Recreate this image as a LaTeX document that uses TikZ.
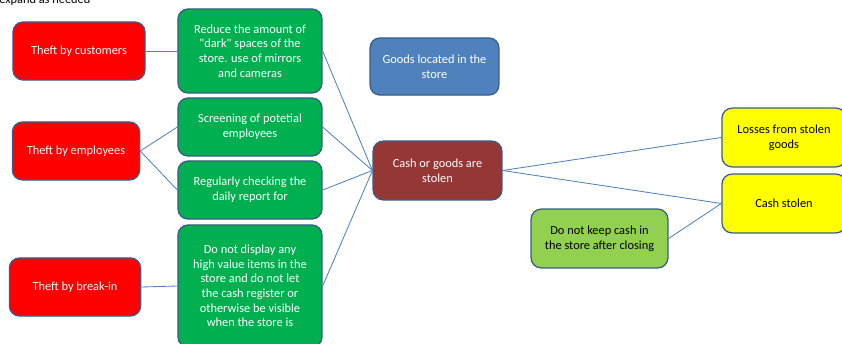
\documentclass[tikz,border=0pt]{standalone}
\usepackage{fontspec}
\setmainfont{Carlito}
\usetikzlibrary{positioning}

\definecolor{boxline}{HTML}{385D8A}
\definecolor{linkblue}{HTML}{4F81BD}
\definecolor{causered}{HTML}{FF0000}
\definecolor{actgreen}{HTML}{00B050}
\definecolor{goodsblue}{HTML}{4F81BD}
\definecolor{eventred}{HTML}{953735}
\definecolor{lossyellow}{HTML}{FFFF00}
\definecolor{keepgreen}{HTML}{92D050}

\begin{document}
\begin{tikzpicture}[
x=0.025cm, y=-0.025cm,
box/.style={draw=boxline, line width=0.9pt, rounded corners=0.25cm, align=center, inner sep=2pt,
  font=\fontsize{8.8}{10.4}\selectfont},
cause/.style={box, fill=causered, text=white, minimum height=1.45cm},
action/.style={box, fill=actgreen, text=white, minimum width=3.6cm},
result/.style={box, fill=lossyellow, text=black, minimum width=3.1cm, minimum height=1.47cm},
link/.style={draw=linkblue, line width=0.6pt}
]
\useasboundingbox (0,0) rectangle (842,343);

\node[anchor=base west, inner sep=0pt, font=\fontsize{8.8}{10.4}\selectfont] (hint) at (-1,3) {expand as needed};

% causes
\node[cause, minimum width=3.3cm] (cust) at (79,51) {Theft by customers};
\node[cause, minimum width=3.18cm] (empl) at (76,151) {Theft by employees};
\node[cause, minimum width=3.28cm] (brk) at (75,287) {Theft by break-in};

% counter measures
\node[action, minimum height=2.1cm] (dark) at (250,51) {Reduce the amount of\\\textquotedbl dark\textquotedbl{} spaces of the\\store. use of mirrors\\and cameras};
\node[action, minimum height=1.45cm] (screen) at (250,127) {Screening of potetial\\employees};
\node[action, minimum height=1.45cm] (check) at (250,190) {Regularly checking the\\daily report for};
\node[action, minimum height=3.05cm] (hide) at (250,286) {Do not display any\\high value items in the\\store and do not let\\the cash register or\\otherwise be visible\\when the store is};

% event
\node[box, fill=goodsblue, text=white, minimum width=3.22cm, minimum height=1.43cm] (goods) at (434.5,66.5) {Goods located in the\\store};
\node[box, fill=eventred, text=white, minimum width=3.22cm, minimum height=1.47cm] (stolen) at (437.5,170.5) {Cash or goods are\\stolen};

% consequences
\node[result] (loss) at (784,137.5) {Losses from stolen\\goods};
\node[result] (cash) at (784,203.5) {Cash stolen};
\node[box, fill=keepgreen, text=black, minimum width=3.42cm, minimum height=1.47cm] (keep) at (599.5,238.5) {Do not keep cash in\\the store after closing};

\draw[link] (cust.east) -- (dark.west);
\draw[link] (empl.east) -- (screen.west);
\draw[link] (empl.east) -- (check.west);
\draw[link] (brk.east) -- (hide.west);
\draw[link] (dark.east) -- (stolen.west);
\draw[link] (screen.east) -- (stolen.west);
\draw[link] (check.east) -- (stolen.west);
\draw[link] (hide.east) -- (stolen.west);
\draw[link] (stolen.east) -- (loss.west);
\draw[link] (stolen.east) -- (cash.west);
\draw[link] (keep.east) -- (cash.west);
\end{tikzpicture}
\end{document}
